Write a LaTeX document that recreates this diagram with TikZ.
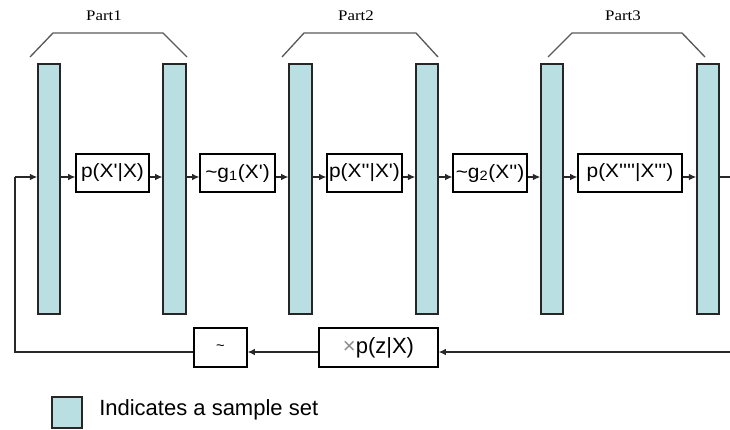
\documentclass[tikz,border=0pt]{standalone}
\usepackage{fontspec}
\setmainfont{Liberation Sans}
\newfontfamily\partfont{Liberation Serif}
\usetikzlibrary{arrows.meta}
\definecolor{barfill}{RGB}{185,223,227}
\definecolor{linegray}{RGB}{40,40,40}
\newcommand{\qq}{\textquotesingle}
\newcommand{\wide}[1]{\scalebox{1.08}[1]{#1}}
\begin{document}
\begin{tikzpicture}[x=0.75pt,y=-0.75pt,
  bar/.style={draw=black!85,line width=1.1pt,fill=barfill,inner sep=0pt},
  fbox/.style={draw=black,line width=0.9pt,fill=white,inner sep=0pt,minimum height=28.5pt,font=\fontsize{14.5}{17}\selectfont},
  conn/.style={draw=linegray,line width=0.95pt},
  arr/.style={conn,-{Latex[length=5.5pt,width=5pt]}},
  brk/.style={draw=black!65,line width=1pt},
  plabel/.style={font=\partfont\fontsize{11}{13}\selectfont}]
\useasboundingbox (0,0) rectangle (730,429);
% sample-set bars
\node[bar,minimum width=16.5pt,minimum height=187.5pt] (b1) at (49,189) {};
\node[bar,minimum width=17pt,minimum height=187.5pt] (b2) at (174.5,189) {};
\node[bar,minimum width=17pt,minimum height=187.5pt] (b3) at (300.5,189) {};
\node[bar,minimum width=16.5pt,minimum height=187.5pt] (b4) at (427,189) {};
\node[bar,minimum width=16.5pt,minimum height=187.5pt] (b5) at (552,189) {};
\node[bar,minimum width=16.5pt,minimum height=187.5pt] (b6) at (708,189) {};
% operation boxes
\node[fbox,minimum width=54.75pt] (t1) at (112.5,173) {\wide{p(X\qq|X)}};
\node[fbox,minimum width=56.25pt] (t2) at (237.5,173) {\wide{\textasciitilde g\textsubscript{1}(X\qq)}};
\node[fbox,minimum width=56.25pt] (t3) at (364.5,173) {\wide{p(X\qq\qq|X\qq)}};
\node[fbox,minimum width=55.5pt] (t4) at (490,173) {\wide{\textasciitilde g\textsubscript{2}(X\qq\qq)}};
\node[fbox,minimum width=78pt] (t5) at (630,173) {\wide{p(X\qq\qq\qq\qq|X\qq\qq\qq)}};
\node[fbox,minimum width=39.75pt,minimum height=29.25pt,font=\fontsize{11}{13}\selectfont] (s1) at (220.5,347.5) {\textasciitilde};
\node[fbox,minimum width=89.25pt,minimum height=29.25pt,font=\fontsize{16.5}{19}\selectfont] (s2) at (378.5,347.5) {{\color{black!45}×}p(z|X)};
% helper coordinates
\coordinate (ym) at (0,177);
\coordinate (yb) at (0,352);
\coordinate (fl) at (15,177);
\coordinate (flb) at (15,352);
\coordinate (rm) at (730,177);
\coordinate (rb) at (730,352);
% main chain
\draw[arr] (fl) -- (b1.west |- ym);
\draw[arr] (b1.east |- ym) -- (t1.west |- ym);
\draw[arr] (t1.east |- ym) -- (b2.west |- ym);
\draw[arr] (b2.east |- ym) -- (t2.west |- ym);
\draw[arr] (t2.east |- ym) -- (b3.west |- ym);
\draw[arr] (b3.east |- ym) -- (t3.west |- ym);
\draw[arr] (t3.east |- ym) -- (b4.west |- ym);
\draw[arr] (b4.east |- ym) -- (t4.west |- ym);
\draw[arr] (t4.east |- ym) -- (b5.west |- ym);
\draw[arr] (b5.east |- ym) -- (t5.west |- ym);
\draw[arr] (t5.east |- ym) -- (b6.west |- ym);
\draw[conn] (b6.east |- ym) -- (rm);
% feedback path
\draw[arr] (rb) -- (s2.east |- yb);
\draw[arr] (s2.west |- yb) -- (s1.east |- yb);
\draw[conn] (s1.west |- yb) -- (flb) -- (fl);
% part brackets
\draw[brk] (30,57) -- (53,33) -- (163,33) -- (187,57);
\draw[brk] (282,57) -- (304,33) -- (416,33) -- (438,57);
\draw[brk] (548,57) -- (572,33) -- (682,33) -- (705,57);
\node[plabel] (p1) at (104,16) {\scalebox{1.15}[1]{Part1}};
\node[plabel] (p2) at (356,16) {\scalebox{1.15}[1]{Part2}};
\node[plabel] (p3) at (623,16) {\scalebox{1.15}[1]{Part3}};
% legend
\node[bar,minimum width=22.5pt,minimum height=23.25pt] (lg) at (67,412.5) {};
\node[anchor=west,inner sep=0pt,font=\fontsize{16.5}{19}\selectfont] (lt) at (99,410) {Indicates a sample set};
\end{tikzpicture}
\end{document}
